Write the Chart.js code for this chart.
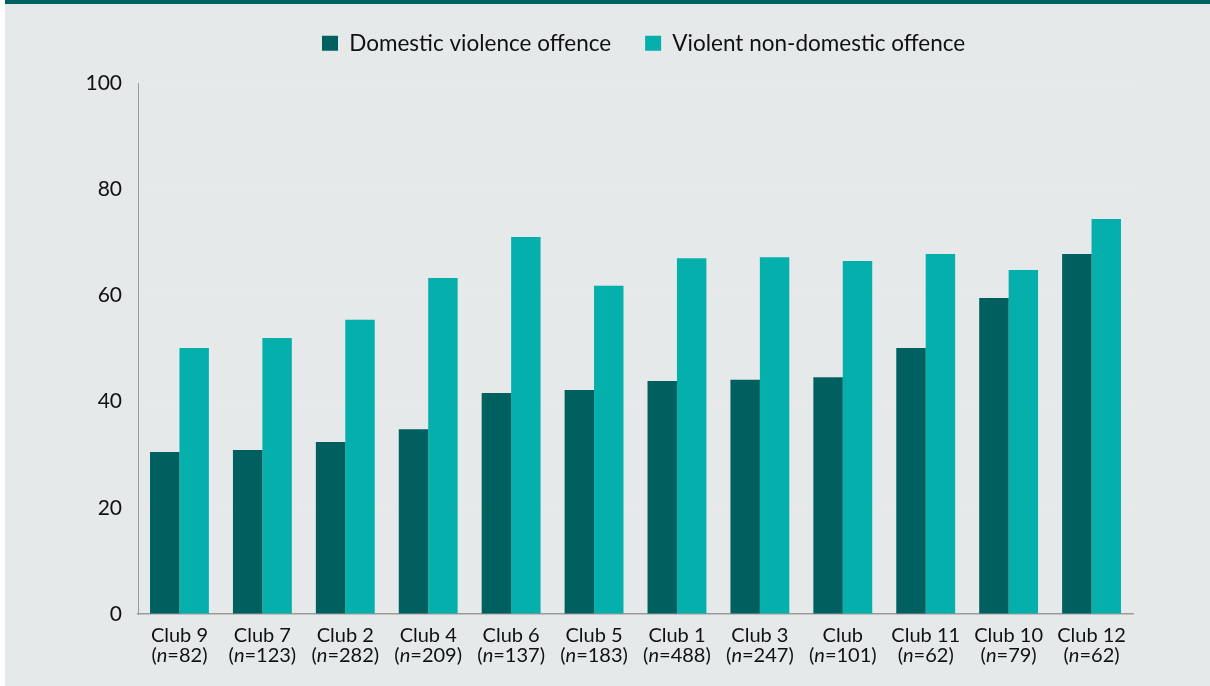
<!DOCTYPE html>
<html>
<head>
<meta charset="utf-8">
<script src="https://cdn.jsdelivr.net/npm/chart.js@4.4.1/dist/chart.umd.min.js"></script>
<style>
  html, body { margin: 0; padding: 0; background: #ffffff; }
  #frame { position: absolute; left: 5px; top: 0; width: 1205px; height: 686px; background: #e5e9ea; }
  #band { height: 4px; background: #00605f; }
  canvas { display: block; }
</style>
</head>
<body>
<div id="frame">
  <div id="band"></div>
  <canvas id="c" width="1205" height="682"></canvas>
</div>
<script>
// ---- data ----
const clubs = ['Club 9', 'Club 7', 'Club 2', 'Club 4', 'Club 6', 'Club 5', 'Club 1', 'Club 3', 'Club', 'Club 11', 'Club 10', 'Club 12'];
const sampleSizes = [82, 123, 282, 209, 137, 183, 488, 247, 101, 62, 79, 62];
const domesticViolence = [30.5, 30.9, 32.4, 34.8, 41.6, 42.2, 43.9, 44.1, 44.6, 50.1, 59.5, 67.8];
const violentNonDomestic = [50.1, 52.0, 55.4, 63.3, 71.0, 61.8, 67.0, 67.2, 66.5, 67.8, 64.8, 74.4];
const seriesNames = ['Domestic violence offence', 'Violent non-domestic offence'];
const yTicks = [0, 20, 40, 60, 80, 100];

const FONT = 'Lato, "Open Sans", Arial, sans-serif';
Chart.defaults.font.family = FONT;
Chart.defaults.color = '#111111';

// legend sizing / positioning
const legendFix = {
  id: 'legendFix',
  beforeInit(chart) {
    const lg = chart.legend;
    if (!lg) return;
    const f = lg.fit;
    lg.fit = function () { f.call(this); this.height = 79; };
  },
  afterLayout(chart) {
    const lg = chart.legend;
    if (!lg) return;
    lg.left = 317 - lg.options.labels.padding;
    lg.top = -6;
  }
};

// second line of x labels: "(n=82)" with italic n
const sampleLine = {
  id: 'sampleLine',
  afterDraw(chart) {
    const xs = chart.scales.x;
    const ctx = chart.ctx;
    const size = 20;
    const y = chart.chartArea.bottom + 11 + 21;
    ctx.save();
    ctx.fillStyle = '#111111';
    ctx.textBaseline = 'top';
    ctx.textAlign = 'left';
    const normal = size + 'px ' + FONT;
    const italic = 'italic ' + size + 'px ' + FONT;
    sampleSizes.forEach((n, i) => {
      const a = '(', b = 'n', c = '=' + n + ')';
      ctx.font = normal; const wa = ctx.measureText(a).width; const wc = ctx.measureText(c).width;
      ctx.font = italic; const wb = ctx.measureText(b).width;
      const total = wa + wb + wc;
      let x = xs.getPixelForTick(i) - total / 2;
      ctx.font = normal; ctx.fillText(a, x, y); x += wa;
      ctx.font = italic; ctx.fillText(b, x, y); x += wb;
      ctx.font = normal; ctx.fillText(c, x, y);
    });
    ctx.restore();
  }
};

new Chart(document.getElementById('c'), {
  type: 'bar',
  data: {
    labels: clubs,
    datasets: [
      { label: seriesNames[0], data: domesticViolence, backgroundColor: '#00605f', borderWidth: 0 },
      { label: seriesNames[1], data: violentNonDomestic, backgroundColor: '#05afab', borderWidth: 0 }
    ]
  },
  options: {
    responsive: false,
    devicePixelRatio: 1,
    animation: false,
    categoryPercentage: 0.71,
    barPercentage: 1.0,
    layout: { padding: { top: 0, right: 77, bottom: 0, left: 0 } },
    plugins: {
      legend: {
        position: 'top',
        align: 'start',
        labels: {
          boxWidth: 16,
          boxHeight: 15,
          padding: 34,
          color: '#111111',
          font: { size: 22.5, family: FONT }
        }
      },
      tooltip: { enabled: false }
    },
    scales: {
      x: {
        grid: { display: false, drawTicks: false },
        border: { display: true, color: '#9a9a9a', width: 1.5 },
        ticks: { padding: 11, color: '#111111', font: { size: 20, family: FONT, lineHeight: 1.05 }, maxRotation: 0, autoSkip: false },
        afterFit(scale) { scale.height = 72; }
      },
      y: {
        min: 0,
        max: 100,
        grid: { color: '#ece8e8', lineWidth: 1, drawTicks: false },
        border: { display: true, color: '#9a9a9a', width: 1 },
        afterBuildTicks(scale) { scale.ticks = yTicks.map(v => ({ value: v })); },
        ticks: { padding: 16, color: '#111111', font: { size: 21, family: FONT } },
        afterFit(scale) { scale.width = 133; }
      }
    }
  },
  plugins: [legendFix, sampleLine]
});
</script>
</body>
</html>
